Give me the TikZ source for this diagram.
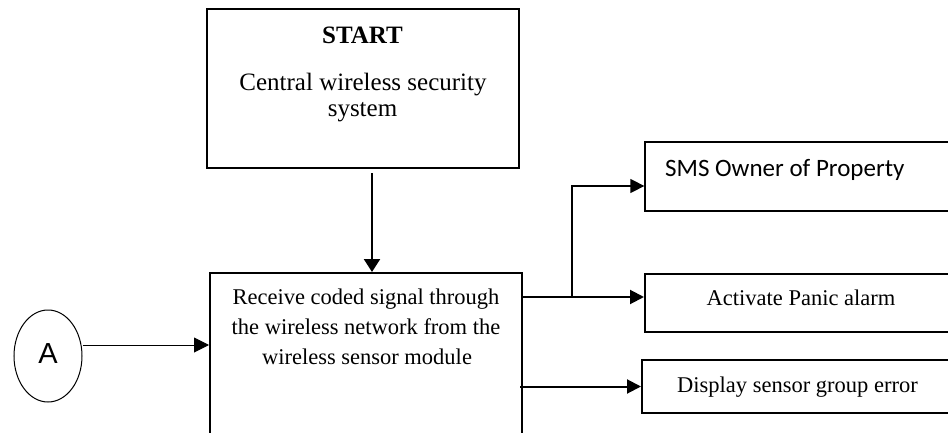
\documentclass[tikz,border=0pt]{standalone}
\usepackage{fontspec}
\setmainfont{Liberation Serif}
\newfontfamily\calibfont{Carlito}
\newfontfamily\arialfont{Liberation Sans}
\usetikzlibrary{arrows.meta,shapes.geometric}
\begin{document}
\begin{tikzpicture}[x=1pt,y=-1pt,
  box/.style={draw,rectangle,inner sep=0pt,line width=2pt},
  txt/.style={inner sep=0pt,anchor=base,font=\fontsize{22.5}{30}\selectfont},
  bigtxt/.style={inner sep=0pt,anchor=base,font=\fontsize{25}{28}\selectfont},
  tip/.style={-{Triangle[length=14pt,width=14pt]}},
  conn/.style={tip,line width=2pt},
]
\useasboundingbox (0,0) rectangle (948,433);
\fill[white] (0,0) rectangle (948,433);
\clip (0,0) rectangle (948,433);

% boxes
\node[box,line width=2.3pt,minimum width=312pt,minimum height=159pt] (start) at (363,88.5) {};
\node[box,minimum width=312pt,minimum height=197pt] (recv) at (366,371.5) {};
\node[draw,ellipse,line width=1pt,inner sep=0pt,minimum width=68pt,minimum height=92pt] (A) at (48,356) {};
\node[box,line width=1.3pt,minimum width=335pt,minimum height=69pt] (sms) at (812.5,176.5) {};
\node[box,minimum width=335pt,minimum height=58pt] (act) at (812.5,303) {};
\node[box,minimum width=338pt,minimum height=53pt] (disp) at (811,386.5) {};

% texts
\node[bigtxt,font=\fontsize{25}{28}\selectfont\bfseries] (t1) at (362.5,44) {START};
\node[bigtxt] (t2) at (363,91) {Central wireless security};
\node[bigtxt] (t3) at (362.5,117) {system};
\node[txt] (r1) at (366,304) {Receive coded signal through};
\node[txt] (r2) at (366,334) {the wireless network from the};
\node[txt] (r3) at (367,364) {wireless sensor module};
\node[inner sep=0pt,anchor=base west,font=\calibfont\fontsize{25}{30}\selectfont] (smst) at (665,176) {SMS Owner of Property};
\node[txt] (actt) at (801,305) {Activate Panic alarm};
\node[txt] (dispt) at (797.5,392) {Display sensor group error};
\node[inner sep=0pt,anchor=base,font=\arialfont\fontsize{29}{30}\selectfont] (At) at (48,363) {A};

% connectors
\coordinate (j) at (572,297);
\draw[conn,line width=2.3pt,{Triangle[length=13pt,width=16pt]}-] ([xshift=6pt]recv.north) -- ([xshift=9pt,yshift=-4pt]start.south);
\draw[tip,line width=1pt,-{Triangle[length=15pt,width=15pt]}] ([yshift=11pt]A.east) -- ([yshift=11pt]A.east -| recv.west);
\draw[line width=2pt] (recv.east |- j) -- (j);
\draw[conn] (j) -- (act.west |- j);
\draw[tip,line width=1.5pt] (j) |- ([yshift=-9.5pt]sms.west);
\draw[conn] ([xshift=-3pt]recv.east |- disp.west) -- (disp.west);
\end{tikzpicture}
\end{document}
